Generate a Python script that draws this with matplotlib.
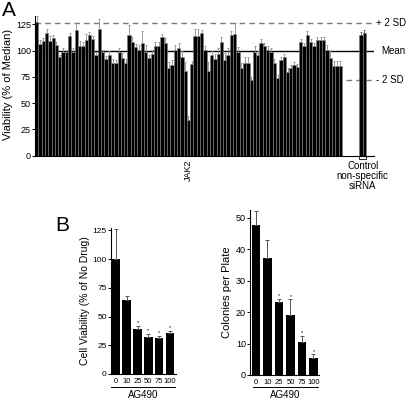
import matplotlib
matplotlib.use("Agg")
import matplotlib.pyplot as plt
from matplotlib.lines import Line2D
from matplotlib.patches import Rectangle
import numpy as np

plt.rcParams['font.family'] = ['Liberation Sans', 'DejaVu Sans']

# ---------------- data ----------------
screen_vals = [127,106,109,117,109,112,105,94,99,99,114,99,120,104,104,110,115,111,96,121,
               99,92,96,88,88,99,93,88,115,108,103,101,107,99,93,97,104,104,113,107,
               83,86,101,102,94,81,34,87,114,114,117,101,81,
               96,92,97,108,91,96,115,116,99,83,88,88,72,99,96,107,104,101,99,88,
               74,91,94,80,83,86,84,108,104,115,108,104,110,110,110,101,93,85,85,85]
screen_err = [6,4,3,4,5,3,3,2,3,2,3,3,6,5,4,6,3,3,3,9,
              2,3,4,4,3,3,5,4,9,5,3,4,12,6,3,4,4,4,3,5,
              6,5,4,5,6,8,4,3,7,7,3,3,8,
              4,5,5,5,7,6,4,10,4,5,6,6,3,5,4,4,3,3,3,4,
              3,3,3,3,3,3,3,3,3,4,3,3,3,3,3,4,7,5,5,5]
jak2_index = 46
control_vals = [115, 117]
control_err = [3, 3]
mean_line = 100
plus2sd = 126
minus2sd = 72

doses = ['0', '10', '25', '50', '75', '100']
viability = [100, 64, 39, 32, 31, 36]
viability_err = [26, 3.5, 3, 3, 2, 1.5]
colonies = [47.5, 37, 23.2, 19, 10.5, 5.3]
colonies_err = [4.5, 6, 1, 5, 2, 1.3]
star_flags = [False, False, True, True, True, True]

W, H = 410, 400
fig = plt.figure(figsize=(W/100, H/100), dpi=100)

def ax_px(l, r, top, bottom):
    return fig.add_axes([l/W, 1-bottom/H, (r-l)/W, (bottom-top)/H])

def style(ax, fs):
    for s in ['top', 'right']:
        ax.spines[s].set_visible(False)
    for s in ['left', 'bottom']:
        ax.spines[s].set_linewidth(0.8)
    ax.tick_params(axis='y', direction='out', length=2, width=0.7, labelsize=fs, pad=1)

# ---------------- Panel A ----------------
axA = ax_px(35, 374, 13.8, 155.7)
n = len(screen_vals)
x = np.arange(n)
axA.bar(x, screen_vals, width=1.0, color='black', edgecolor='#808080', linewidth=0.4, zorder=2)
axA.errorbar(x, screen_vals, yerr=[np.zeros(n), screen_err], fmt='none', ecolor='#8a8a8a',
             elinewidth=0.6, capsize=1.0, capthick=0.6, zorder=3)
cx = [98.3, 99.3]
axA.bar(cx, control_vals, width=1.0, color='black', edgecolor='#808080', linewidth=0.4, zorder=2)
axA.errorbar(cx, control_vals, yerr=[[0, 0], control_err], fmt='none', ecolor='#555555',
             elinewidth=0.6, capsize=1.0, capthick=0.6, zorder=3)
axA.set_xlim(-0.5, 102.2)
axA.set_ylim(0, 135)
axA.axhline(mean_line, color='black', lw=1.0, zorder=1)
axA.axhline(plus2sd, color='#7a7a7a', lw=1.0, ls=(0, (4, 3)), zorder=1)
axA.axhline(minus2sd, color='#7a7a7a', lw=1.0, ls=(0, (4, 3)), zorder=1)
axA.set_yticks([0, 25, 50, 75, 100, 125])
axA.set_xticks([])
style(axA, 6.5)
axA.spines['left'].set_bounds(0, 133)
axA.set_ylabel('Viability (% of Median)', fontsize=8, labelpad=2)
axA.text(1.005, plus2sd, '+ 2 SD', transform=axA.get_yaxis_transform(), fontsize=7, va='center', ha='left')
axA.text(1.02, mean_line, 'Mean', transform=axA.get_yaxis_transform(), fontsize=7, va='center', ha='left')
axA.text(1.005, minus2sd, '- 2 SD', transform=axA.get_yaxis_transform(), fontsize=7, va='center', ha='left')
axA.text(jak2_index, -4, 'JAK2', rotation=90, ha='center', va='top', fontsize=6.5)
axA.add_patch(Rectangle((97.8, -3.5), 2.0, 3.5, fill=False, edgecolor='black', lw=0.6, clip_on=False))
axA.text(98.8, -5.5, 'Control\nnon-specific\nsiRNA', ha='center', va='top', fontsize=7, linespacing=1.0)
fig.text(2/W, 1-1/H, 'A', fontsize=15, ha='left', va='top')

# ---------------- Panel B left ----------------
axB1 = ax_px(111, 176, 228, 374)
xb = np.arange(len(doses))
axB1.bar(xb, viability, width=0.8, color='black', zorder=2)
axB1.errorbar(xb, viability, yerr=[np.zeros(len(xb)), viability_err], fmt='none', ecolor='#555555',
              elinewidth=0.7, capsize=1.5, capthick=0.7, zorder=3)
for i, f in enumerate(star_flags):
    if f:
        axB1.text(xb[i], viability[i] + viability_err[i] + 0.5, '*', ha='center', va='bottom', fontsize=4)
axB1.set_xlim(-0.46, 5.56)
axB1.set_ylim(0, 127)
axB1.set_yticks([0, 25, 50, 75, 100, 125])
axB1.set_xticks(xb)
axB1.set_xticklabels(doses)
style(axB1, 6)
axB1.tick_params(axis='x', length=0, labelsize=5.5, pad=3)
axB1.set_ylabel('Cell Viability (% of No Drug)', fontsize=7.5, labelpad=2)
fig.add_artist(Line2D([111/W, 175/W], [1-387/H, 1-387/H], color='black', lw=0.7))
fig.text(143/W, 1-394.5/H, 'AG490', ha='center', va='center', fontsize=7)
fig.text(55/W, 1-216/H, 'B', fontsize=15, ha='left', va='top')

# ---------------- Panel B right ----------------
axB2 = ax_px(250, 319, 210, 375)
axB2.bar(xb, colonies, width=0.75, color='black', zorder=2)
axB2.errorbar(xb, colonies, yerr=[np.zeros(len(xb)), colonies_err], fmt='none', ecolor='#555555',
              elinewidth=0.7, capsize=1.5, capthick=0.7, zorder=3)
for i, f in enumerate(star_flags):
    if f:
        axB2.text(xb[i], colonies[i] + colonies_err[i] + 0.2, '*', ha='center', va='bottom', fontsize=4)
axB2.set_xlim(-0.52, 5.48)
axB2.set_ylim(0, 52.4)
axB2.set_yticks([0, 10, 20, 30, 40, 50])
axB2.set_xticks(xb)
axB2.set_xticklabels(doses)
style(axB2, 6.5)
axB2.tick_params(axis='x', length=0, labelsize=5.5, pad=3)
axB2.set_ylabel('Colonies per Plate', fontsize=8, labelpad=3)
fig.add_artist(Line2D([253/W, 318/W], [1-387/H, 1-387/H], color='black', lw=0.7))
fig.text(285/W, 1-394.5/H, 'AG490', ha='center', va='center', fontsize=7)

fig.savefig('out.png', dpi=100)
